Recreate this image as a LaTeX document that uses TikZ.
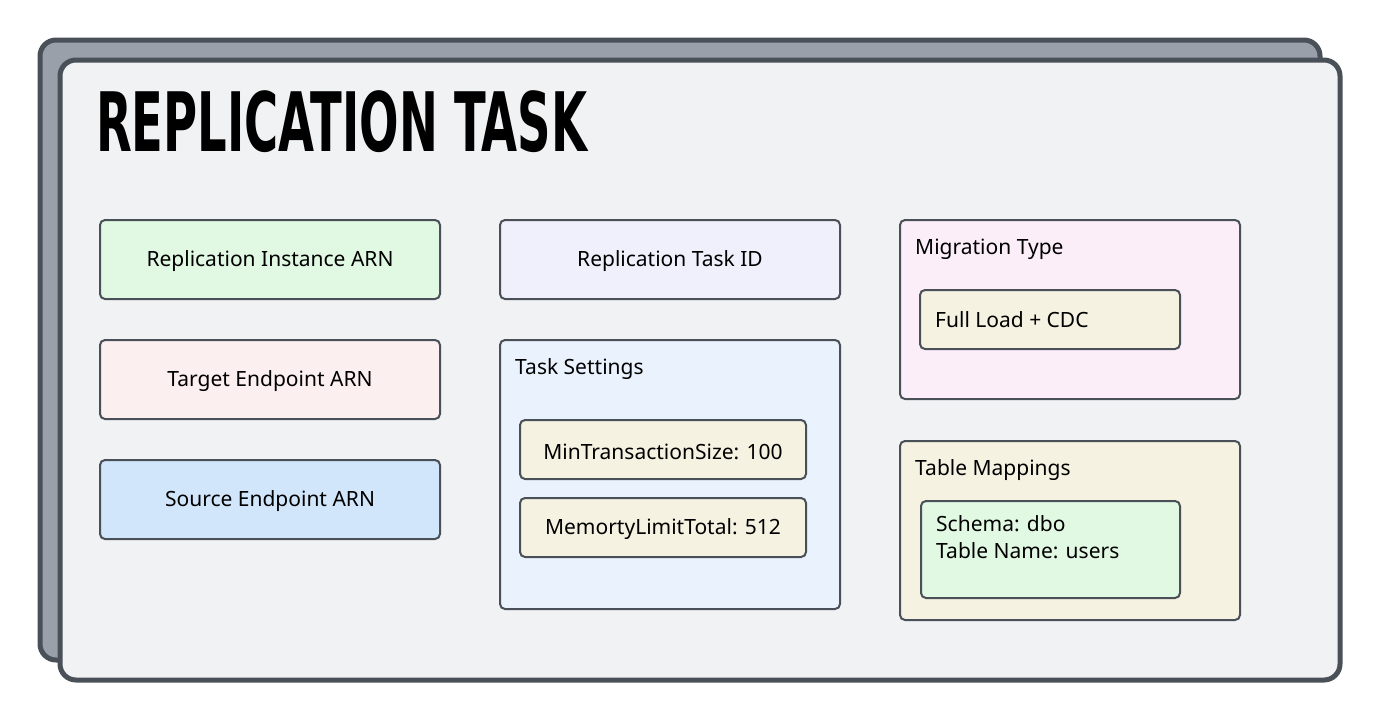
\documentclass[tikz,border=0pt]{standalone}
\usepackage{fontspec}
\setmainfont{Noto Sans}
\newfontfamily\titlefont{DejaVu Sans Condensed}
\definecolor{edge}{HTML}{4A5058}
\definecolor{backc}{HTML}{9AA0A9}
\definecolor{frontc}{HTML}{F1F2F4}
\definecolor{cgreen}{HTML}{E1F8E3}
\definecolor{cpink}{HTML}{FCEFEF}
\definecolor{cblue}{HTML}{D1E5FB}
\definecolor{clav}{HTML}{F0F0FC}
\definecolor{csky}{HTML}{EAF3FD}
\definecolor{cmag}{HTML}{FCEEF9}
\definecolor{ccream}{HTML}{F5F2E2}
\begin{document}
\begin{tikzpicture}[x=1pt,y=-1pt,
  box/.style={draw=edge,line width=2pt,rounded corners=5pt},
  lbl/.style={font=\fontsize{21}{27}\selectfont,text=black},
  card/.style={draw=edge,line width=5pt,rounded corners=16pt}]
\useasboundingbox (0,0) rectangle (1380,720);
\draw[card,fill=backc] (40,40) rectangle (1320,660);
\draw[card,fill=frontc] (60,60) rectangle (1340,680);
\node[anchor=west,inner sep=0,font=\titlefont\bfseries\fontsize{82}{84}\selectfont,xscale=0.63] (title) at (96,122) {REPLICATION TASK};
% left column
\draw[box,fill=cgreen] (100,220) rectangle (440,299) node[midway,yshift=-2pt,lbl] (ria) {Replication Instance ARN};
\draw[box,fill=cpink] (100,340) rectangle (440,419) node[midway,yshift=-2pt,lbl] (tea) {Target Endpoint ARN};
\draw[box,fill=cblue] (100,460) rectangle (440,539) node[midway,yshift=-2pt,lbl] (sea) {Source Endpoint ARN};
% middle
\draw[box,fill=clav] (500,220) rectangle (840,299) node[midway,yshift=-2pt,lbl] (rti) {Replication Task ID};
\draw[box,fill=csky] (500,340) rectangle (840,609);
\node[lbl,anchor=west,inner sep=0] (ts) at (515,369) {Task Settings};
\draw[box,fill=ccream] (520,420) rectangle (806,479) node[midway,yshift=-2pt,lbl] (mts) {MinTransactionSize: 100};
\draw[box,fill=ccream] (520,498) rectangle (806,557) node[midway,yshift=-2pt,lbl] (mlt) {MemortyLimitTotal: 512};
% right
\draw[box,fill=cmag] (900,220) rectangle (1240,399);
\node[lbl,anchor=west,inner sep=0] (mt) at (915,249) {Migration Type};
\draw[box,fill=ccream] (920,290) rectangle (1180,349);
\node[lbl,anchor=west,inner sep=0] (fl) at (935,320) {Full Load + CDC};
\draw[box,fill=ccream] (900,441) rectangle (1240,620);
\node[lbl,anchor=west,inner sep=0] (tm) at (915,470) {Table Mappings};
\draw[box,fill=cgreen] (921,501) rectangle (1180,598);
\node[lbl,anchor=north west,inner sep=0,align=left] (sc) at (936,515) {Schema: dbo\\Table Name: users};
\end{tikzpicture}
\end{document}
